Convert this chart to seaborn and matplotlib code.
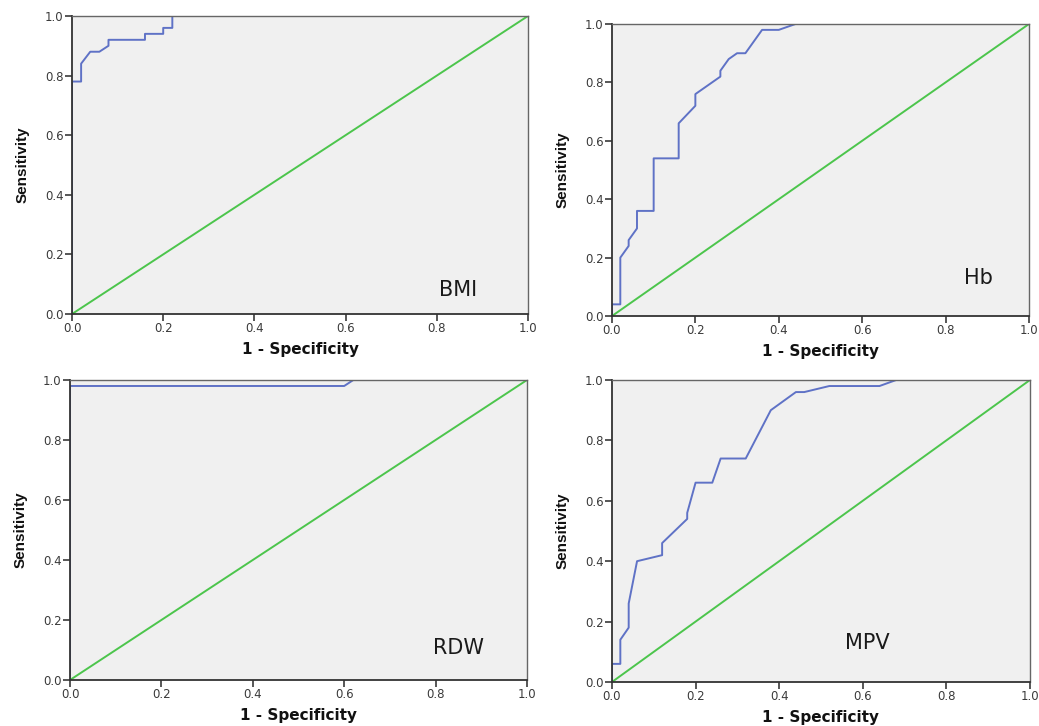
import matplotlib
matplotlib.use("Agg")
import matplotlib.pyplot as plt
import seaborn as sns
import pandas as pd

sns.set_theme(style="white")
plt.rcParams["font.family"] = ["DejaVu Sans"]

# ROC curve coordinates (1 - specificity, sensitivity) for each marker
bmi_fpr = [0.00, 0.00, 0.02, 0.02, 0.04, 0.06, 0.08, 0.08, 0.16, 0.16, 0.20, 0.20, 0.22, 0.22, 1.00]
bmi_tpr = [0.00, 0.78, 0.78, 0.84, 0.88, 0.88, 0.90, 0.92, 0.92, 0.94, 0.94, 0.96, 0.96, 1.00, 1.00]

hb_fpr = [0.00, 0.00, 0.02, 0.02, 0.04, 0.04, 0.06, 0.06, 0.10, 0.10, 0.16, 0.16, 0.20, 0.20,
          0.26, 0.26, 0.28, 0.30, 0.32, 0.36, 0.40, 0.44, 1.00]
hb_tpr = [0.00, 0.04, 0.04, 0.20, 0.24, 0.26, 0.30, 0.36, 0.36, 0.54, 0.54, 0.66, 0.72, 0.76,
          0.82, 0.84, 0.88, 0.90, 0.90, 0.98, 0.98, 1.00, 1.00]

rdw_fpr = [0.00, 0.00, 0.60, 0.62, 1.00]
rdw_tpr = [0.00, 0.98, 0.98, 1.00, 1.00]

mpv_fpr = [0.00, 0.00, 0.02, 0.02, 0.04, 0.04, 0.06, 0.12, 0.12, 0.18, 0.18, 0.20, 0.24, 0.26,
           0.32, 0.38, 0.44, 0.46, 0.52, 0.64, 0.68, 1.00]
mpv_tpr = [0.00, 0.06, 0.06, 0.14, 0.18, 0.26, 0.40, 0.42, 0.46, 0.54, 0.56, 0.66, 0.66, 0.74,
           0.74, 0.90, 0.96, 0.96, 0.98, 0.98, 1.00, 1.00]

ref_line = [0.0, 1.0]

panels = [
    ("BMI", bmi_fpr, bmi_tpr, [0.0693, 0.5675, 0.4389, 0.4105], (0.846, 0.08)),
    ("Hb", hb_fpr, hb_tpr, [0.5890, 0.5647, 0.4013, 0.4022], (0.878, 0.13)),
    ("RDW", rdw_fpr, rdw_tpr, [0.0674, 0.0634, 0.4398, 0.4132], (0.850, 0.105)),
    ("MPV", mpv_fpr, mpv_tpr, [0.5890, 0.0606, 0.4023, 0.4160], (0.610, 0.13)),
]

blue = "#5f72c6"
green = "#4cc54c"
ticks = [0.0, 0.2, 0.4, 0.6, 0.8, 1.0]

fig = plt.figure(figsize=(10.39, 7.26), dpi=100)

for name, fpr, tpr, rect, (tx, ty) in panels:
    ax = fig.add_axes(rect)
    ax.set_facecolor("#f0f0f0")
    df = pd.DataFrame({"fpr": fpr, "tpr": tpr})
    sns.lineplot(data=df, x="fpr", y="tpr", sort=False, estimator=None,
                 color=blue, lw=1.4, ax=ax)
    sns.lineplot(x=ref_line, y=ref_line, color=green, lw=1.4, ax=ax)
    ax.set_xlim(0, 1)
    ax.set_ylim(0, 1)
    ax.set_xticks(ticks)
    ax.set_yticks(ticks)
    ax.set_xticklabels([f"{t:.1f}" for t in ticks])
    ax.set_yticklabels([f"{t:.1f}" for t in ticks])
    ax.tick_params(axis="both", direction="out", length=5, width=1.2,
                   colors="#3a3a3a", labelsize=8.5, pad=1,
                   bottom=True, left=True)
    for side in ["left", "bottom"]:
        ax.spines[side].set_color("#333333")
        ax.spines[side].set_linewidth(1.3)
    for side in ["top", "right"]:
        ax.spines[side].set_color("#666666")
        ax.spines[side].set_linewidth(1.0)
    ax.set_xlabel("1 - Specificity", fontsize=11, fontweight="bold", labelpad=5,
                  color="#111111")
    ax.set_ylabel("Sensitivity", fontsize=11, fontweight="bold", labelpad=11,
                  family=["Liberation Sans Narrow", "Liberation Sans", "DejaVu Sans"],
                  color="#111111")
    ax.text(tx, ty, name, transform=ax.transAxes, fontsize=15,
            ha="center", va="center", color="#1a1a1a")

fig.savefig("out.png", dpi=100)
